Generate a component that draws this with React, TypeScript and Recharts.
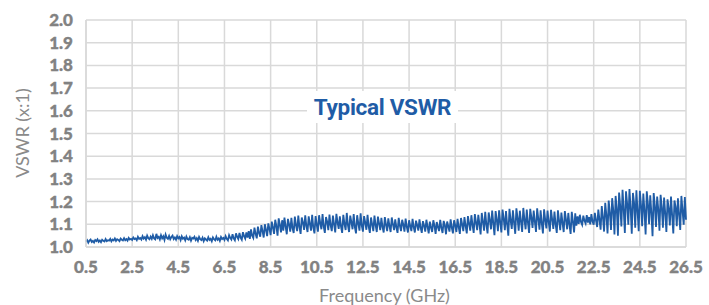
import React from "react";
import { LineChart, Line, XAxis, YAxis, CartesianGrid } from "recharts";

const freqStart = 0.5;
const freqStep = 0.05;

const vswr: number[] = [
  1.024, 1.030, 1.019, 1.028, 1.033, 1.022, 1.027, 1.020, 1.031, 1.026, 1.034, 1.023, 1.029, 1.021, 1.032, 1.027, 1.024, 1.035, 1.026, 1.030,
  1.028, 1.036, 1.025, 1.033, 1.029, 1.038, 1.027, 1.034, 1.031, 1.026, 1.037, 1.032, 1.029, 1.039, 1.030, 1.035, 1.028, 1.040, 1.033, 1.036,
  1.031, 1.042, 1.035, 1.038, 1.030, 1.045, 1.036, 1.040, 1.033, 1.048, 1.037, 1.043, 1.032, 1.050, 1.039, 1.034, 1.046, 1.036, 1.052, 1.038,
  1.034, 1.058, 1.040, 1.045, 1.033, 1.052, 1.038, 1.047, 1.031, 1.055, 1.041, 1.036, 1.049, 1.034, 1.044, 1.050, 1.035, 1.042, 1.032, 1.048,
  1.038, 1.044, 1.030, 1.047, 1.036, 1.041, 1.029, 1.046, 1.035, 1.032, 1.043, 1.028, 1.040, 1.037, 1.045, 1.031, 1.039, 1.027, 1.044, 1.034,
  1.030, 1.041, 1.026, 1.038, 1.033, 1.028, 1.043, 1.031, 1.036, 1.025, 1.042, 1.034, 1.029, 1.045, 1.032, 1.038, 1.027, 1.044, 1.035, 1.040,
  1.031, 1.048, 1.036, 1.029, 1.052, 1.040, 1.033, 1.056, 1.038, 1.030, 1.060, 1.045, 1.035, 1.062, 1.041, 1.032, 1.065, 1.048, 1.037, 1.064,
  1.042, 1.070, 1.036, 1.078, 1.050, 1.040, 1.085, 1.058, 1.038, 1.090, 1.062, 1.045, 1.096, 1.070, 1.042, 1.100, 1.075, 1.048, 1.104, 1.080,
  1.052, 1.112, 1.086, 1.058, 1.120, 1.092, 1.050, 1.126, 1.098, 1.064, 1.118, 1.072, 1.130, 1.090, 1.056, 1.124, 1.100, 1.068, 1.128, 1.082,
  1.062, 1.134, 1.095, 1.070, 1.138, 1.088, 1.058, 1.130, 1.108, 1.075, 1.140, 1.092, 1.066, 1.135, 1.102, 1.072, 1.142, 1.085, 1.060, 1.136,
  1.098, 1.068, 1.140, 1.105, 1.078, 1.145, 1.090, 1.062, 1.132, 1.112, 1.074, 1.143, 1.095, 1.070, 1.138, 1.100, 1.064, 1.146, 1.108, 1.080,
  1.135, 1.090, 1.062, 1.142, 1.102, 1.075, 1.150, 1.096, 1.066, 1.138, 1.110, 1.078, 1.145, 1.088, 1.060, 1.140, 1.104, 1.072, 1.148, 1.094,
  1.068, 1.136, 1.108, 1.076, 1.142, 1.090, 1.062, 1.130, 1.100, 1.070, 1.138, 1.096, 1.066, 1.134, 1.104, 1.074, 1.128, 1.088, 1.064, 1.132,
  1.098, 1.070, 1.126, 1.092, 1.066, 1.130, 1.100, 1.074, 1.122, 1.086, 1.062, 1.128, 1.094, 1.070, 1.120, 1.098, 1.068, 1.125, 1.090, 1.064,
  1.118, 1.092, 1.070, 1.124, 1.088, 1.064, 1.116, 1.096, 1.072, 1.122, 1.085, 1.062, 1.114, 1.094, 1.068, 1.120, 1.090, 1.060, 1.112, 1.086,
  1.066, 1.118, 1.094, 1.058, 1.110, 1.088, 1.070, 1.120, 1.084, 1.062, 1.115, 1.096, 1.056, 1.112, 1.090, 1.068, 1.122, 1.086, 1.060, 1.118,
  1.095, 1.066, 1.124, 1.088, 1.058, 1.128, 1.100, 1.070, 1.132, 1.092, 1.060, 1.136, 1.104, 1.072, 1.140, 1.096, 1.062, 1.145, 1.108, 1.074,
  1.142, 1.100, 1.055, 1.150, 1.112, 1.072, 1.155, 1.098, 1.060, 1.152, 1.118, 1.078, 1.160, 1.104, 1.052, 1.158, 1.120, 1.070, 1.162, 1.108,
  1.064, 1.165, 1.125, 1.074, 1.158, 1.100, 1.050, 1.168, 1.118, 1.080, 1.162, 1.106, 1.058, 1.170, 1.128, 1.072, 1.160, 1.112, 1.066, 1.172,
  1.120, 1.078, 1.165, 1.108, 1.062, 1.168, 1.130, 1.084, 1.160, 1.112, 1.066, 1.170, 1.124, 1.076, 1.162, 1.104, 1.060, 1.166, 1.118, 1.082,
  1.160, 1.110, 1.068, 1.164, 1.122, 1.080, 1.156, 1.100, 1.062, 1.162, 1.116, 1.074, 1.152, 1.106, 1.066, 1.158, 1.120, 1.078, 1.150, 1.098,
  1.058, 1.155, 1.112, 1.064, 1.148, 1.094, 1.135, 1.102, 1.142, 1.110, 1.098, 1.138, 1.116, 1.104, 1.140, 1.108, 1.132, 1.100, 1.145, 1.112,
  1.098, 1.150, 1.116, 1.088, 1.165, 1.120, 1.076, 1.180, 1.130, 1.068, 1.195, 1.140, 1.060, 1.205, 1.150, 1.075, 1.215, 1.160, 1.055, 1.225,
  1.170, 1.050, 1.240, 1.180, 1.090, 1.252, 1.165, 1.062, 1.245, 1.190, 1.098, 1.255, 1.172, 1.058, 1.238, 1.195, 1.085, 1.250, 1.160, 1.070,
  1.248, 1.185, 1.092, 1.235, 1.160, 1.055, 1.245, 1.190, 1.100, 1.228, 1.150, 1.048, 1.238, 1.180, 1.088, 1.222, 1.165, 1.072, 1.230, 1.175,
  1.085, 1.218, 1.150, 1.066, 1.210, 1.170, 1.095, 1.222, 1.140, 1.060, 1.205, 1.176, 1.092, 1.215, 1.145, 1.075, 1.225, 1.160, 1.098, 1.220,
  1.120,
];

const xTicks = [0.5, 2.5, 4.5, 6.5, 8.5, 10.5, 12.5, 14.5, 16.5, 18.5, 20.5, 22.5, 24.5, 26.5];
const yTicks = [1.0, 1.1, 1.2, 1.3, 1.4, 1.5, 1.6, 1.7, 1.8, 1.9, 2.0];

const chartTitle = "Typical VSWR";
const xTitle = "Frequency (GHz)";
const yTitle = "VSWR (x:1)";

const data = vswr.map((v, i) => ({
  f: Math.round((freqStart + i * freqStep) * 1000) / 1000,
  v,
}));

const tickStyle = {
  fill: "#828282",
  stroke: "#828282",
  strokeWidth: 0.35,
  fontSize: 17,
  fontWeight: 900,
  fontFamily: "Lato",
};

export default function App() {
  return (
    <div style={{ position: "absolute", left: 0, top: 0, width: 709, height: 305, background: "#fff" }}>
      <LineChart width={709} height={305} data={data} margin={{ top: 20, right: 23, left: 0, bottom: 0 }}>
        <CartesianGrid stroke="#d9d9d9" strokeWidth={1.5} />
        <XAxis
          dataKey="f"
          type="number"
          domain={[0.5, 26.5]}
          ticks={xTicks}
          tickFormatter={(t: number) => t.toFixed(1)}
          axisLine={{ stroke: "#d9d9d9", strokeWidth: 1.5 }}
          tickLine={false}
          tickSize={0}
          tickMargin={14}
          height={58}
          tick={tickStyle}
          interval={0}
        />
        <YAxis
          type="number"
          domain={[1.0, 2.0]}
          ticks={yTicks}
          tickFormatter={(t: number) => t.toFixed(1)}
          axisLine={{ stroke: "#d9d9d9", strokeWidth: 1.5 }}
          tickLine={false}
          tickSize={0}
          tickMargin={13}
          width={86}
          tick={tickStyle}
          interval={0}
          allowDataOverflow
        />
        <Line
          type="linear"
          dataKey="v"
          stroke="#1f5ca6"
          strokeWidth={1.8}
          dot={false}
          isAnimationActive={false}
        />
      </LineChart>
      <div
        style={{
          position: "absolute",
          left: 307,
          top: 91,
          width: 151,
          height: 32,
          background: "#fff",
          color: "#1f5ca6",
          fontFamily: "Roboto",
          fontWeight: 700,
          fontSize: 22.5,
          lineHeight: "32px",
          textAlign: "center",
          letterSpacing: -0.3,
        }}
      >
        {chartTitle}
      </div>
      <div
        style={{
          position: "absolute",
          left: 0,
          top: 283,
          width: 709,
          paddingLeft: 60,
          boxSizing: "border-box",
          textAlign: "center",
          color: "#8a8a8a",
          fontFamily: "Lato",
          fontSize: 18,
          lineHeight: "24px",
        }}
      >
        {xTitle}
      </div>
      <div
        style={{
          position: "absolute",
          left: 22,
          top: 133,
          transform: "translate(-50%, -50%) rotate(-90deg)",
          whiteSpace: "nowrap",
          color: "#8a8a8a",
          fontFamily: "Lato",
          fontSize: 18,
          lineHeight: "22px",
        }}
      >
        {yTitle}
      </div>
    </div>
  );
}
